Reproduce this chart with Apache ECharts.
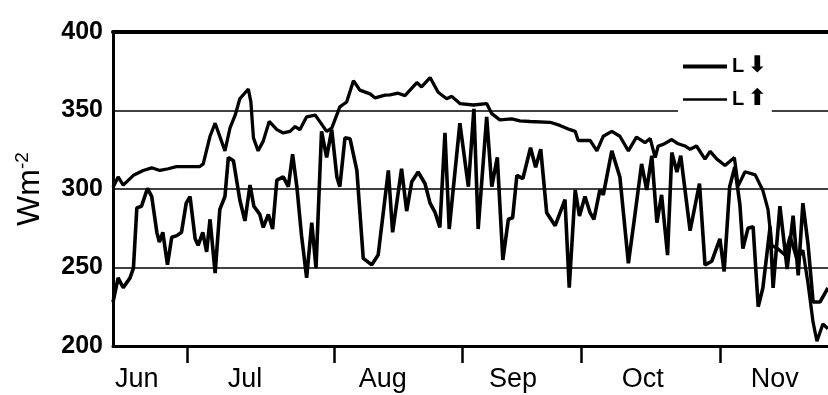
<!DOCTYPE html>
<html>
<head>
<meta charset="utf-8">
<script src="https://cdn.jsdelivr.net/npm/echarts@6/dist/echarts.min.js"></script>
<style>
  html, body { margin: 0; padding: 0; background: #fff; }
  #chart { width: 828px; height: 395px; }
</style>
</head>
<body>
<div id="chart"></div>
<script>
// x = days since start of record (mid-June), y = W m-2
const monthNames = ["Jun", "Jul", "Aug", "Sep", "Oct", "Nov"];
const monthLabelDays = [5.6, 31.0, 63.4, 94.0, 124.5, 155.5];
const monthEdgeDays = [17.4, 51.9, 82.0, 110.0, 142.6];
const yTicks = [200, 250, 300, 350, 400];

// downwelling longwave (jagged)
const lDown = [
  [0, 228], [1.2, 243.4], [2.4, 237.1], [4.0, 243.4], [4.8, 249.6], [5.6, 288], [6.7, 289],
  [8.1, 300.4], [9.1, 295.2], [10.3, 272.4], [10.9, 266.2], [11.7, 272.4], [12.8, 251.7],
  [13.8, 269.3], [15.0, 270.3], [16.1, 272.4], [17.2, 291], [18.1, 295.2], [19.3, 268.3],
  [20.0, 264.1], [21.1, 272.4], [22.0, 260], [22.8, 280.7], [24.0, 246.5], [25.1, 287],
  [26.3, 295.2], [27.1, 320.1], [28.3, 318], [29.8, 293], [31.0, 279.7], [32.2, 302.5],
  [33.1, 289], [34.5, 283.8], [35.3, 275.5], [36.5, 283.8], [37.5, 274.5], [38.5, 305.6],
  [40.0, 307.7], [41.2, 301.5], [42.2, 322.2], [43.2, 301.5], [44.3, 270.3], [45.5, 243.4],
  [46.7, 278.6], [47.7, 249.6], [49.0, 336.7], [50.2, 320.1], [51.4, 337.8], [52.6, 307.7],
  [53.3, 301.5], [54.5, 332.6], [55.7, 332], [57.3, 311.8], [58.8, 255.8], [60.8, 251.7],
  [62.3, 257.9], [64.7, 311.8], [65.7, 272.4], [67.8, 312.9], [69.0, 285.9], [70.2, 304.6],
  [71.7, 310.8], [73.3, 303.5], [74.5, 291], [75.7, 284.9], [76.8, 275.5], [78.0, 335.7],
  [79.0, 274.5], [81.5, 341.9], [83.5, 301.5], [84.8, 351], [85.8, 274.5], [87.8, 346],
  [89.0, 301.5], [90.3, 320.1], [91.6, 254.8], [92.9, 280.7], [93.9, 281.7], [94.9, 308.7],
  [96.3, 306.6], [98.1, 326.3], [99.3, 313.9], [100.5, 325.3], [101.9, 284.9], [103.9, 276.6],
  [106.2, 293.2], [107.2, 237.1], [108.6, 299.4], [109.6, 282.8], [110.9, 295.2], [112.1, 284.9],
  [113.0, 280.7], [114.4, 299.4], [115.2, 296.3], [117.2, 324.3], [119.1, 307.7], [121.1, 252.7],
  [122.7, 284.9], [124.2, 316], [125.4, 299.4], [126.6, 321.2], [127.8, 278.6], [128.9, 296.3],
  [130.3, 257.9], [131.3, 323.2], [132.5, 310.8], [133.4, 321.2], [135.6, 273.4], [137.8, 303.5],
  [139.1, 251.7], [140.7, 254], [142.6, 268.3], [143.6, 247.5], [144.9, 301.5], [146.1, 314],
  [147.3, 290], [148.0, 262], [149.2, 275], [150.4, 276], [151.6, 225], [152.7, 237],
  [154.4, 276], [155.1, 237], [156.7, 289], [158.4, 249], [159.8, 283], [161.0, 245],
  [162.1, 291], [163.3, 265], [164.5, 228], [166.1, 228], [168.0, 237]
];

// upwelling longwave (smooth)
const lUp = [
  [0, 301], [1.2, 307.7], [2.4, 302.5], [4.8, 308.7], [7.1, 311.8], [9.1, 313.5], [11.0, 311.8],
  [13.0, 312.9], [14.9, 314.3], [18.1, 314.3], [20.4, 314.3], [21.2, 316], [22.8, 333.6],
  [24.0, 341.9], [26.3, 324.3], [27.5, 339], [28.7, 347], [29.8, 357.5], [31.8, 363.7],
  [32.4, 355.4], [33.0, 332.6], [34.1, 324.3], [35.3, 330.5], [36.7, 343], [38.5, 337.8],
  [40.0, 335.7], [41.6, 336.7], [42.8, 339.8], [43.9, 337.8], [45.5, 346], [47.5, 347.1],
  [48.6, 342.9], [50.2, 336.7], [51.4, 338.8], [53.3, 352.3], [54.9, 355.4], [56.5, 369],
  [58.0, 363], [60.4, 360.6], [61.6, 358], [63.9, 359.8], [65.1, 360], [67.0, 361],
  [68.6, 359.5], [71.4, 367.8], [72.5, 365], [74.5, 371], [76.4, 361.6], [78.4, 357.5],
  [79.6, 359], [81.5, 354.4], [84.7, 353.5], [87.8, 354.4], [89.0, 348], [90.9, 344],
  [93.7, 344.6], [95.6, 343.4], [98.0, 343], [102.7, 342.5], [105.0, 340.5], [107.4, 337.8],
  [108.6, 336.7], [109.3, 330.9], [112.1, 331], [113.7, 324.3], [115.2, 333.6], [117.2, 336.7],
  [119.1, 333.6], [121.1, 324.3], [123.0, 333], [125.0, 329.5], [126.2, 332.2], [127.4, 320],
  [128.1, 327.4], [129.3, 328.4], [131.3, 331.5], [132.8, 328.8], [134.4, 327.4], [135.6, 325.3],
  [137.1, 327.4], [139.1, 319], [140.3, 324], [141.9, 319], [143.8, 315], [146.0, 320],
  [146.9, 302], [148.5, 311], [150.9, 309], [152.7, 299], [153.9, 287], [154.8, 264],
  [156.2, 262], [157.9, 258], [159.1, 270], [160.7, 255], [162.1, 261], [163.3, 240],
  [164.5, 215], [165.4, 203], [166.8, 214], [168.0, 211]
];

const chart = echarts.init(document.getElementById("chart"));

const option = {
  backgroundColor: "#fff",
  animation: false,
  grid: { left: 113, right: 0, top: 32, bottom: 49 },
  legend: {
    orient: "vertical",
    left: 678,
    top: 52,
    padding: [3, 5, 11, 5],
    itemGap: 10,
    itemWidth: 44,
    itemHeight: 14,
    backgroundColor: "#fff",
    data: [
      { name: "L↓", icon: "path://M0,0 L44,0 L44,4 L0,4 Z" },
      { name: "L↑", icon: "path://M0,0 L44,0 L44,2.5 L0,2.5 Z" }
    ],
    formatter: (name) => "{l|L} {ar|" + (name === "L↓" ? "⬇" : "⬆") + "}",
    textStyle: {
      color: "#000",
      rich: {
        l: { fontFamily: "Liberation Sans", fontWeight: "bold", fontSize: 20, color: "#000", lineHeight: 24 },
        ar: { fontFamily: "DejaVu Sans", fontWeight: "bold", fontSize: 23, color: "#000", lineHeight: 24 }
      }
    }
  },
  xAxis: [
    {
      type: "value",
      min: 0,
      max: 168,
      axisLine: { show: true, lineStyle: { color: "#000", width: 3 } },
      axisTick: {
        show: true,
        length: 17,
        customValues: monthEdgeDays,
        lineStyle: { color: "#000", width: 2.5 }
      },
      axisLabel: {
        customValues: monthLabelDays,
        margin: 20,
        color: "#000",
        fontFamily: "Liberation Sans",
        fontSize: 27,
        formatter: (v) => {
          const i = monthLabelDays.findIndex((d) => Math.abs(d - v) < 0.01);
          return i >= 0 ? monthNames[i] : "";
        }
      },
      splitLine: { show: false }
    },
    {
      type: "value",
      position: "top",
      min: 0,
      max: 168,
      axisLine: { show: true, lineStyle: { color: "#000", width: 4 } },
      axisTick: { show: false },
      axisLabel: { show: false },
      splitLine: { show: false }
    }
  ],
  yAxis: {
    type: "value",
    min: yTicks[0],
    max: yTicks[yTicks.length - 1],
    interval: 50,
    name: "{a|Wm}{b|-2}",
    nameLocation: "middle",
    nameRotate: 90,
    nameGap: 66,
    nameTextStyle: {
      rich: {
        a: { fontSize: 32, fontFamily: "Liberation Sans", color: "#000", lineHeight: 34 },
        b: { fontSize: 19, fontFamily: "Liberation Sans", color: "#000", verticalAlign: "top", lineHeight: 34 }
      }
    },
    axisLine: { show: true, lineStyle: { color: "#000", width: 3 } },
    axisTick: { show: false },
    axisLabel: {
      margin: 10,
      color: "#000",
      fontFamily: "Liberation Sans",
      fontWeight: "bold",
      fontSize: 25,
      padding: [0, 0, 12, 0]
    },
    splitLine: { show: true, lineStyle: { color: "#000", width: 1.5 } }
  },
  series: [
    {
      name: "L↓",
      type: "line",
      data: lDown,
      symbol: "none",
      lineStyle: { color: "#000", width: 3.6 },
      itemStyle: { color: "#000" }
    },
    {
      name: "L↑",
      type: "line",
      data: lUp,
      symbol: "none",
      lineStyle: { color: "#000", width: 3.3 },
      itemStyle: { color: "#000" }
    }
  ]
};

chart.setOption(option);
</script>
</body>
</html>
